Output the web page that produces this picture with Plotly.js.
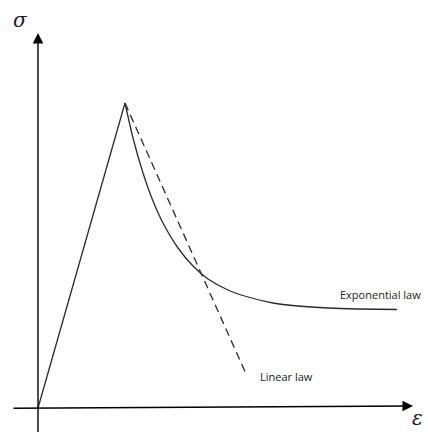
<!DOCTYPE html>
<html>
<head>
<meta charset="utf-8">
<script src="https://cdn.plot.ly/plotly-3.0.1.min.js"></script>
<style>html,body{margin:0;padding:0;background:#fff;}#chart{width:428px;height:432px;}</style>
</head>
<body>
<div id="chart"></div>
<script>
// Strain (x) and stress (y) values (arbitrary units)
const elasticStrain = [0, 87];
const elasticStress = [0, 305];

const expStrain = [87, 95, 105, 115, 125, 140, 155, 170, 190, 210, 235, 260, 290, 320, 359];
const expStress = [305, 270, 235, 207, 185, 160, 142, 129, 118, 111, 105, 102, 100, 99, 98.5];

const linStrain = [87, 209];
const linStress = [305, 32];

const axisLabels = ["σ", "ε"];
const curveLabels = ["Exponential law", "Linear law"];

const lineColor = "#2b2b2b";

const traces = [
  {x: elasticStrain, y: elasticStress, mode: "lines", line: {color: lineColor, width: 1.3}, hoverinfo: "skip"},
  {x: expStrain, y: expStress, mode: "lines", line: {color: lineColor, width: 1.3, shape: "spline", smoothing: 0.6}, hoverinfo: "skip"},
  {x: linStrain, y: linStress, mode: "lines", line: {color: lineColor, width: 1.3, dash: "8px,5px"}, hoverinfo: "skip"}
];

const hidden = {showgrid: false, zeroline: false, showticklabels: false, showline: false, ticks: "", fixedrange: true};

const layout = {
  width: 428, height: 432,
  margin: {l: 0, r: 0, t: 0, b: 0, pad: 0},
  paper_bgcolor: "#fff", plot_bgcolor: "#fff",
  showlegend: false,
  xaxis: Object.assign({range: [-38, 390]}, hidden),
  yaxis: Object.assign({range: [-24, 408]}, hidden),
  annotations: [
    // y axis arrow
    {x: 0, y: 375, ax: 0, ay: -30, xref: "x", yref: "y", axref: "x", ayref: "y", text: "",
     showarrow: true, arrowhead: 2, arrowsize: 1.5, arrowwidth: 1.4, arrowcolor: "#000", standoff: 0},
    // x axis arrow
    {x: 375, y: 2, ax: -26, ay: -0.3, xref: "x", yref: "y", axref: "x", ayref: "y", text: "",
     showarrow: true, arrowhead: 2, arrowsize: 1.5, arrowwidth: 1.4, arrowcolor: "#000", standoff: 0},
    {x: -18, y: 388, xref: "x", yref: "y", text: axisLabels[0], showarrow: false,
     font: {family: "DejaVu Serif", size: 20, color: "#1b1b2b", style: "italic"}},
    {x: 379, y: -10, xref: "x", yref: "y", text: axisLabels[1], showarrow: false, borderpad: 0,
     font: {family: "DejaVu Serif", size: 20, color: "#1b1b2b", style: "italic"}},
    {x: 300, y: 114, xref: "x", yref: "y", text: curveLabels[0], showarrow: false, xanchor: "left",
     font: {family: "Open Sans", size: 11, color: "#222"}},
    {x: 220, y: 32, xref: "x", yref: "y", text: curveLabels[1], showarrow: false, xanchor: "left",
     font: {family: "Open Sans", size: 11, color: "#222"}}
  ]
};

Plotly.newPlot("chart", traces, layout, {displayModeBar: false, staticPlot: true});
</script>
</body>
</html>
